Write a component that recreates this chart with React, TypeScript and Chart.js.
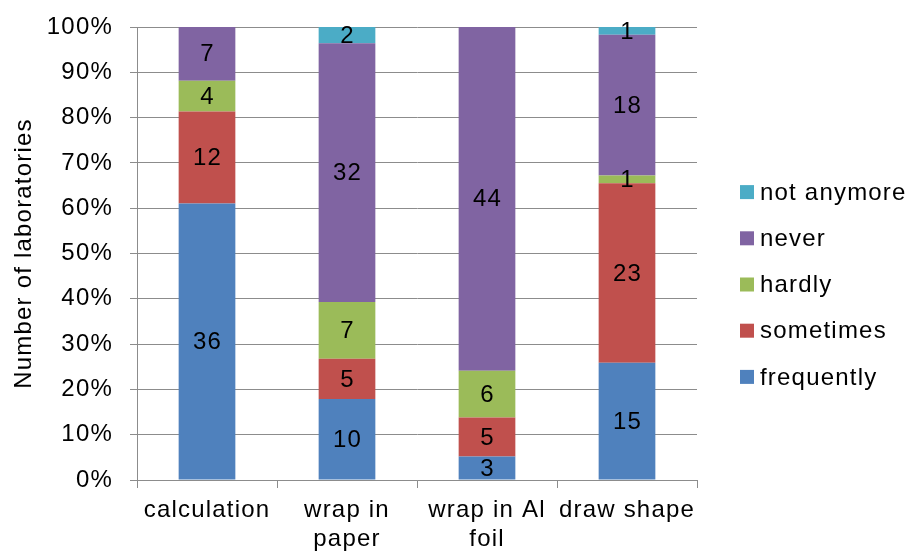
import React, { useEffect, useRef } from "react";
import { Chart, registerables } from "chart.js";

Chart.register(...registerables);

const categories: (string | string[])[] = [
  "calculation",
  ["wrap in", "paper"],
  ["wrap in Al", "foil"],
  "draw shape",
];

const seriesNames = ["frequently", "sometimes", "hardly", "never", "not anymore"];
const seriesColors = ["#4F81BD", "#C0504D", "#9BBB59", "#8064A2", "#4BACC6"];

// Number of laboratories answering each way, per category
const frequently = [36, 10, 3, 15];
const sometimes = [12, 5, 5, 23];
const hardly = [4, 7, 6, 1];
const never = [7, 32, 44, 18];
const notAnymore = [0, 2, 0, 1];

const yTicks = [0, 10, 20, 30, 40, 50, 60, 70, 80, 90, 100];

const FONT = "'Liberation Sans', Arial, sans-serif";
const FONT_SIZE = 24;
const LETTER_SPACING = "1.2px";

const counts = [frequently, sometimes, hardly, never, notAnymore];
const totals = categories.map((_, i) => counts.reduce((s, arr) => s + arr[i], 0));

// Slightly wider tracking for all text drawn on the canvas
const tracking = {
  id: "tracking",
  beforeInit(chart: any) {
    chart.ctx.letterSpacing = LETTER_SPACING;
  },
  beforeLayout(chart: any) {
    chart.ctx.letterSpacing = LETTER_SPACING;
  },
  beforeDraw(chart: any) {
    chart.ctx.letterSpacing = LETTER_SPACING;
  },
};

// Count of laboratories written in the middle of each stacked segment
const segmentLabels = {
  id: "segmentLabels",
  afterDatasetsDraw(chart: any) {
    const ctx = chart.ctx;
    ctx.save();
    ctx.font = `${FONT_SIZE}px ${FONT}`;
    ctx.fillStyle = "#000";
    ctx.textAlign = "center";
    ctx.textBaseline = "middle";
    chart.data.datasets.forEach((ds: any, di: number) => {
      const meta = chart.getDatasetMeta(di);
      meta.data.forEach((bar: any, i: number) => {
        const n = ds.counts[i];
        if (!n) return;
        const cy = (bar.y + bar.base) / 2;
        ctx.fillText(String(n), bar.x + 0.6, cy + 1);
      });
    });
    ctx.restore();
  },
};

// Legend on the right, top entry is the last series
const sideLegend = {
  id: "sideLegend",
  afterDraw(chart: any) {
    const ctx = chart.ctx;
    const area = chart.chartArea;
    const x = area.right + 43;
    const rowH = 46.2;
    const n = seriesNames.length;
    const centerY = 284.5;
    ctx.save();
    ctx.font = `${FONT_SIZE}px ${FONT}`;
    ctx.textAlign = "left";
    ctx.textBaseline = "middle";
    for (let k = 0; k < n; k++) {
      const idx = n - 1 - k;
      const y = centerY + (k - (n - 1) / 2) * rowH;
      ctx.fillStyle = seriesColors[idx];
      ctx.fillRect(x, y - 7, 14, 14);
      ctx.fillStyle = "#000";
      ctx.fillText(seriesNames[idx], x + 20, y + 1);
    }
    ctx.restore();
  },
};

export default function App() {
  const ref = useRef<HTMLCanvasElement>(null);

  useEffect(() => {
    document.body.style.margin = "0";
    const canvas = ref.current!;
    const chart = new Chart(canvas, {
      type: "bar",
      data: {
        labels: categories,
        datasets: counts.map((arr, di) => ({
          label: seriesNames[di],
          data: arr.map((v, i) => (v / totals[i]) * 100),
          counts: arr,
          backgroundColor: seriesColors[di],
          borderWidth: 0,
          categoryPercentage: 1,
          barPercentage: 0.405,
        })) as any,
      },
      options: {
        animation: false,
        responsive: false,
        devicePixelRatio: 1,
        layout: { padding: { top: 0, right: 211, left: 0, bottom: 0 } },
        plugins: {
          legend: { display: false },
          tooltip: { enabled: false },
        },
        scales: {
          x: {
            stacked: true,
            offset: true,
            border: { display: true, color: "#8C8C8C", width: 1 },
            grid: {
              offset: true,
              drawOnChartArea: false,
              drawTicks: true,
              tickLength: 8,
              color: "#8C8C8C",
            },
            ticks: {
              color: "#000",
              font: { family: FONT, size: FONT_SIZE, lineHeight: 1.2 },
              padding: 8,
              maxRotation: 0,
              autoSkip: false,
            },
            afterFit(scale: any) {
              scale.height = 73;
            },
          },
          y: {
            stacked: true,
            min: 0,
            max: 100,
            afterBuildTicks(scale: any) {
              scale.ticks = yTicks.map((v) => ({ value: v }));
            },
            border: { display: true, color: "#8C8C8C", width: 1 },
            grid: {
              color: "#8C8C8C",
              drawTicks: true,
              tickLength: 7,
            },
            ticks: {
              color: "#000",
              font: { family: FONT, size: FONT_SIZE },
              padding: 17,
              callback: (v: any) => `${v}%`,
            },
            title: {
              display: true,
              text: "Number of laboratories",
              color: "#000",
              font: { family: FONT, size: FONT_SIZE, lineHeight: 1.2 },
              padding: { top: 10, bottom: 0 },
            },
            afterFit(scale: any) {
              scale.width = 137;
              scale.paddingTop = 27;
            },
          },
        },
      },
      plugins: [tracking, segmentLabels, sideLegend],
    });
    return () => chart.destroy();
  }, []);

  return (
    <div style={{ width: 908, height: 553 }}>
      <canvas ref={ref} width={908} height={553} style={{ display: "block" }} />
    </div>
  );
}
